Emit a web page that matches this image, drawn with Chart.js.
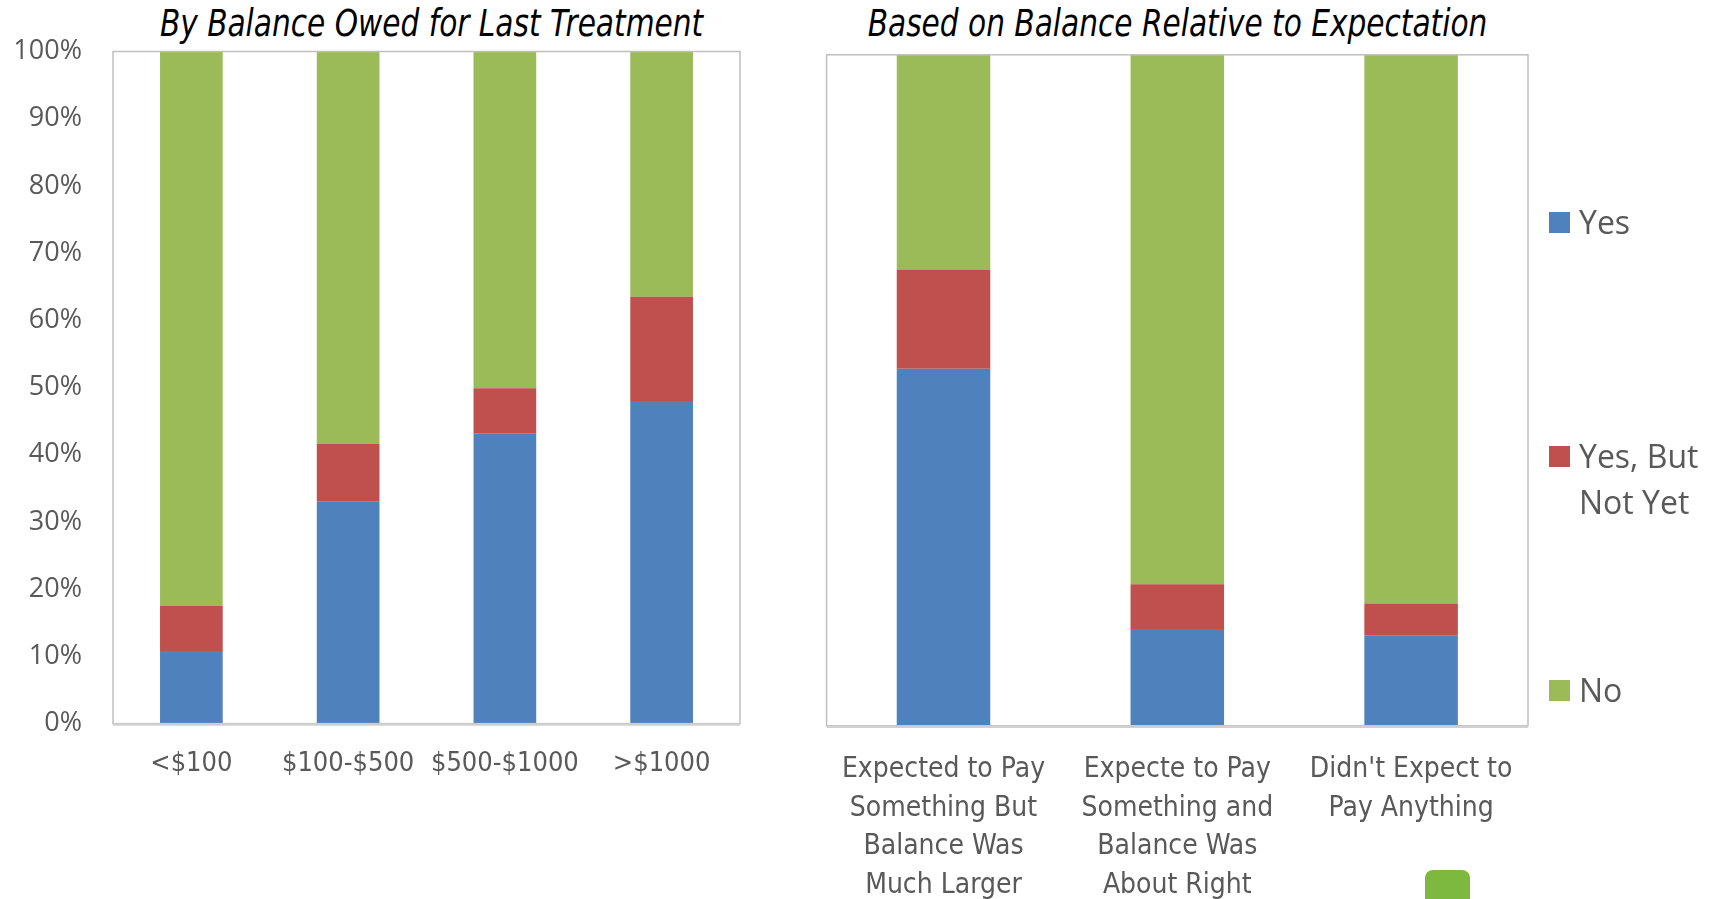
<!DOCTYPE html>
<html>
<head>
<meta charset="utf-8">
<script src="https://cdn.jsdelivr.net/npm/chart.js@4.4.1/dist/chart.umd.min.js"></script>
<style>
  html, body { margin: 0; padding: 0; background: #fff; }
  body { width: 1719px; height: 899px; position: relative; overflow: hidden; }
  canvas { position: absolute; top: 0; }
  .title {
    position: absolute; top: 2px; text-align: center; white-space: nowrap;
    font-family: 'DejaVu Sans Condensed', sans-serif;
    font-style: italic; font-size: 37px; color: #000; line-height: 44px;
    transform: scaleX(0.89); transform-origin: center;
  }
  .legend { position: absolute; left: 1549px; font-family: 'Open Sans', sans-serif; font-size: 32px; color: #595959; line-height: 46px; }
  .legend span.sw { position: absolute; left: 0; top: 13px; width: 21px; height: 21px; }
  .legend div.txt { margin-left: 30px; }
  .blob { position: absolute; left: 1425px; top: 870px; width: 45px; height: 40px; background: #7cb93e; border-radius: 8px; }
</style>
</head>
<body>
<div class="title" style="left:113px; width:637px;">By Balance Owed for Last Treatment</div>
<div class="title" style="left:827px; width:701px;">Based on Balance Relative to Expectation</div>
<canvas id="leftChart" width="770" height="899" style="left:0"></canvas>
<canvas id="rightChart" width="949" height="899" style="left:770px"></canvas>

<div class="legend" style="top:199px"><span class="sw" style="background:#4f81bd"></span><div class="txt">Yes</div></div>
<div class="legend" style="top:433px"><span class="sw" style="background:#c0504d"></span><div class="txt">Yes, But<br>Not Yet</div></div>
<div class="legend" style="top:667px"><span class="sw" style="background:#9bbb59"></span><div class="txt">No</div></div>
<div class="blob"></div>

<script>
// --- Data: balance owed for last treatment ---
const balanceLabels = ['<$100', '$100-$500', '$500-$1000', '>$1000'];
const balanceYes = [10.8, 33.0, 43.2, 48.0];
const balanceNotYet = [6.7, 8.6, 6.7, 15.5];
const balanceNo = [82.5, 58.4, 50.1, 36.5];

// --- Data: balance relative to expectation ---
const expectLabels = [
  ['Expected to Pay', 'Something But', 'Balance Was', 'Much Larger'],
  ['Expecte to Pay', 'Something and', 'Balance Was', 'About Right'],
  ["Didn't Expect to", 'Pay Anything']
];
const expectYes = [53.2, 14.4, 13.5];
const expectNotYet = [14.8, 6.7, 4.7];
const expectNo = [32.0, 78.9, 81.8];

const yTicks = [0, 10, 20, 30, 40, 50, 60, 70, 80, 90, 100];

const BLUE = '#4f81bd', RED = '#c0504d', GREEN = '#9bbb59';
const labelColor = '#595959';

// grey frame round the plot area
const plotFrame = {
  id: 'plotFrame',
  afterDraw(chart) {
    const { ctx, chartArea: a } = chart;
    ctx.save();
    ctx.strokeStyle = '#bfbfbf';
    ctx.lineWidth = 1.5;
    ctx.strokeRect(a.left, a.top, a.right - a.left, a.bottom - a.top);
    ctx.strokeStyle = '#d0d0d0';
    ctx.lineWidth = 2.5;
    ctx.beginPath();
    ctx.moveTo(a.left, a.bottom + 1);
    ctx.lineTo(a.right, a.bottom + 1);
    ctx.stroke();
    ctx.restore();
  }
};

const makeSets = (yes, notYet, no) => [
  { label: 'Yes', data: yes, backgroundColor: BLUE },
  { label: 'Yes, But Not Yet', data: notYet, backgroundColor: RED },
  { label: 'No', data: no, backgroundColor: GREEN }
];

const xFont = size => ({ family: "'DejaVu Sans Condensed', sans-serif", size, lineHeight: 38.5 / size });

function stackedOptions(pad, xHeight, yWidth, showY, xPad, xSize) {
  return {
    responsive: false,
    animation: false,
    layout: { padding: pad },
    plugins: { legend: { display: false }, tooltip: { enabled: false } },
    datasets: { bar: { barPercentage: 0.4, categoryPercentage: 1.0, borderWidth: 0 } },
    scales: {
      x: {
        stacked: true,
        grid: { display: false, drawTicks: false },
        border: { display: false },
        ticks: { color: labelColor, font: xFont(xSize), padding: xPad, maxRotation: 0, autoSkip: false },
        afterFit: s => { s.height = xHeight; }
      },
      y: {
        stacked: true,
        display: showY,
        min: 0, max: 100,
        afterBuildTicks: s => { s.ticks = yTicks.map(v => ({ value: v })); },
        grid: { display: false, drawTicks: false },
        border: { display: false },
        ticks: {
          color: labelColor, padding: 31,
          font: { family: "'Open Sans', sans-serif", size: 27 },
          callback: v => v + '%'
        },
        afterFit: s => { s.width = yWidth; }
      }
    }
  };
}

new Chart(document.getElementById('leftChart'), {
  type: 'bar',
  data: { labels: balanceLabels, datasets: makeSets(balanceYes, balanceNotYet, balanceNo) },
  options: stackedOptions({ top: 51.5, right: 30, left: 0, bottom: 0 }, 175.4, 113, true, 21.5, 27),
  plugins: [plotFrame]
});

new Chart(document.getElementById('rightChart'), {
  type: 'bar',
  data: { labels: expectLabels, datasets: makeSets(expectYes, expectNotYet, expectNo) },
  options: stackedOptions({ top: 54.8, right: 191, left: 56.6, bottom: 0 }, 173.3, 0, false, 25, 28),
  plugins: [plotFrame]
});
</script>
</body>
</html>
